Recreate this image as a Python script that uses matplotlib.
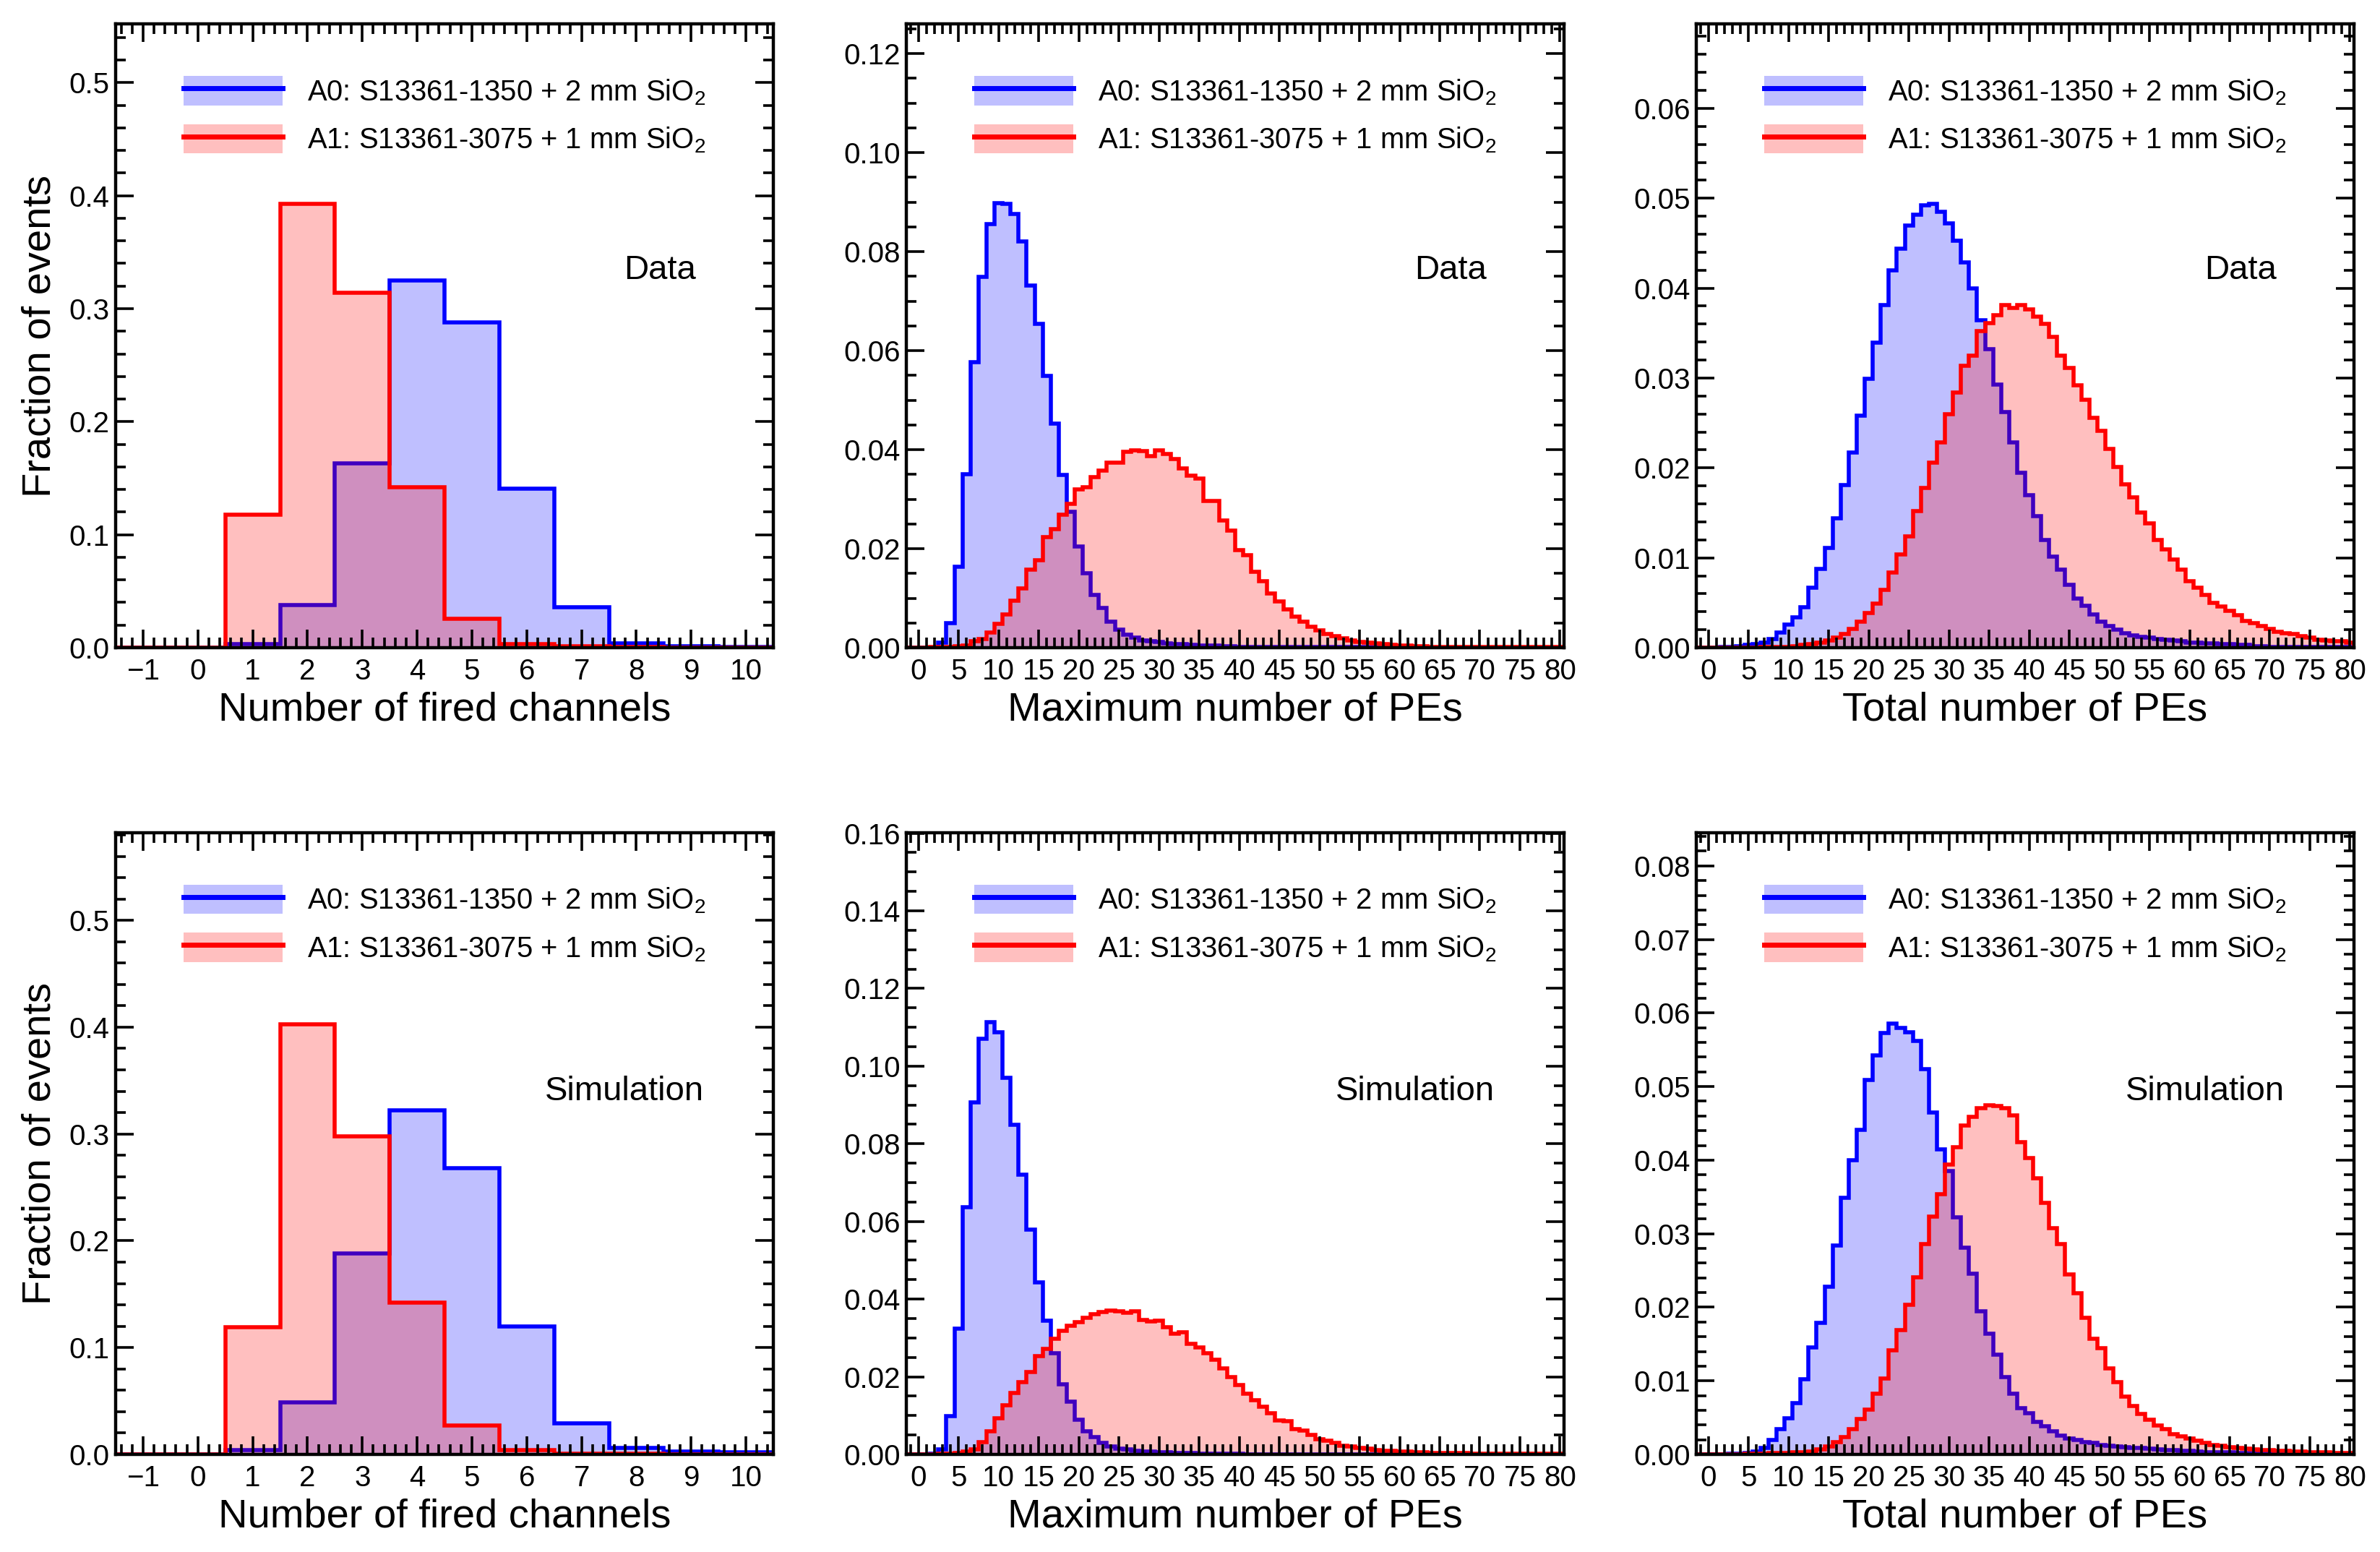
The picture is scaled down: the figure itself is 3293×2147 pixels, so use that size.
import matplotlib
matplotlib.use("Agg")
import matplotlib.pyplot as plt
import numpy as np
from matplotlib.ticker import MultipleLocator, FormatStrFormatter
from matplotlib.patches import Patch
from matplotlib.lines import Line2D

plt.rcParams['font.family'] = ['Liberation Sans', 'DejaVu Sans']
plt.rcParams['mathtext.default'] = 'regular'

LABEL_A0 = "A0: S13361-1350 + 2 mm SiO$_2$"
LABEL_A1 = "A1: S13361-3075 + 1 mm SiO$_2$"

# bin centres
FIRED_BINS = np.arange(-1, 11)
PE_BINS = np.arange(-1, 81)

# number of fired channels (bins -1..10)
FIRED_DATA_A0 = [0, 0, 0.003, 0.038, 0.163, 0.325, 0.288, 0.141, 0.036, 0.004, 0.001, 0.0005]
FIRED_DATA_A1 = [0, 0, 0.118, 0.393, 0.314, 0.142, 0.0255, 0.003, 0.001, 0.0005, 0.0003, 0.0002]
FIRED_SIM_A0 = [0, 0, 0.004, 0.049, 0.188, 0.322, 0.268, 0.120, 0.029, 0.006, 0.003, 0.002]
FIRED_SIM_A1 = [0, 0, 0.119, 0.403, 0.298, 0.142, 0.027, 0.004, 0.001, 0.0005, 0.0003, 0.0002]

# maximum number of PEs (bins -1..80)
MAXPE_DATA_A0 = [
    0, 0, 0, 0, 0.0010, 0.0049, 0.0164, 0.0350, 0.0576, 0.0749,
    0.0856, 0.0898, 0.0897, 0.0876, 0.0821, 0.0731, 0.0654, 0.0549, 0.0452, 0.0349,
    0.0275, 0.0204, 0.0150, 0.0107, 0.0080, 0.0053, 0.0037, 0.0027, 0.0020, 0.0015,
    0.0013, 0.0011, 0.0009, 0.0008, 0.0007, 0.0006, 0.0005, 0.0004, 0.0004, 0.0003,
    0.0003, 0.0002, 0.0002, 0.0002, 0.0001, 0.0001, 0.0001, 0.0001, 0.0001, 0.0001,
    0.0001, 0.0001, 0.0001, 0.0001, 0.0001, 0.0001, 0.0001, 0.0001, 0.0001, 0.0001,
    0.0001, 0, 0, 0, 0, 0, 0, 0, 0, 0,
    0, 0, 0, 0, 0, 0, 0, 0, 0, 0,
    0, 0,
]
MAXPE_DATA_A1 = [
    0, 0, 0, 0.0001, 0.0001, 0.0002, 0.0003, 0.0005, 0.0013, 0.0017,
    0.0030, 0.0048, 0.0067, 0.0095, 0.0120, 0.0157, 0.0177, 0.0224, 0.0240, 0.0268,
    0.0290, 0.0320, 0.0324, 0.0344, 0.0357, 0.0374, 0.0374, 0.0395, 0.0399, 0.0397,
    0.0387, 0.0399, 0.0391, 0.0381, 0.0362, 0.0347, 0.0341, 0.0297, 0.0296, 0.0257,
    0.0237, 0.0197, 0.0187, 0.0154, 0.0134, 0.0110, 0.0094, 0.0077, 0.0063, 0.0053,
    0.0043, 0.0035, 0.0028, 0.0023, 0.0019, 0.0015, 0.0012, 0.0010, 0.0009, 0.0007,
    0.0006, 0.0005, 0.0004, 0.0003, 0.0003, 0.0002, 0.0002, 0.0001, 0.0001, 0.0001,
    0.0001, 0.0001, 0.0001, 0.0001, 0.0001, 0.0001, 0.0001, 0.0001, 0.0001, 0.0001,
    0.0001, 0.0001,
]
MAXPE_SIM_A0 = [
    0, 0, 0, 0.0001, 0.0013, 0.0098, 0.0323, 0.0636, 0.0906, 0.1070,
    0.1113, 0.1088, 0.0969, 0.0849, 0.0721, 0.0579, 0.0443, 0.0345, 0.0260, 0.0181,
    0.0136, 0.0089, 0.0060, 0.0045, 0.0030, 0.0021, 0.0015, 0.0013, 0.0010, 0.0008,
    0.0007, 0.0006, 0.0005, 0.0004, 0.0003, 0.0003, 0.0002, 0.0002, 0.0001, 0.0001,
    0.0001, 0.0001, 0, 0, 0, 0, 0, 0, 0, 0,
    0, 0, 0, 0, 0, 0, 0, 0, 0, 0,
    0, 0, 0, 0, 0, 0, 0, 0, 0, 0,
    0, 0, 0, 0, 0, 0, 0, 0, 0, 0,
    0, 0,
]
MAXPE_SIM_A1 = [
    0, 0, 0, 0, 0.0001, 0.0002, 0.0003, 0.0007, 0.0013, 0.0031,
    0.0060, 0.0094, 0.0126, 0.0159, 0.0187, 0.0213, 0.0253, 0.0272, 0.0298, 0.0319,
    0.0332, 0.0340, 0.0351, 0.0362, 0.0366, 0.0370, 0.0368, 0.0365, 0.0368, 0.0346,
    0.0343, 0.0345, 0.0328, 0.0311, 0.0315, 0.0285, 0.0275, 0.0260, 0.0243, 0.0221,
    0.0200, 0.0179, 0.0157, 0.0139, 0.0123, 0.0106, 0.0088, 0.0085, 0.0066, 0.0061,
    0.0051, 0.0040, 0.0036, 0.0030, 0.0023, 0.0020, 0.0016, 0.0014, 0.0012, 0.0010,
    0.0009, 0.0008, 0.0007, 0.0006, 0.0005, 0.0004, 0.0004, 0.0003, 0.0003, 0.0003,
    0.0002, 0.0002, 0.0001, 0.0001, 0.0001, 0.0001, 0.0001, 0.0001, 0.0001, 0.0001,
    0.0001, 0.0001,
]

# total number of PEs (bins -1..80)
TOTPE_DATA_A0 = [
    0, 0, 0, 0.0001, 0.0001, 0.0002, 0.0003, 0.0004, 0.0006, 0.0010,
    0.0017, 0.0026, 0.0034, 0.0045, 0.0067, 0.0088, 0.0111, 0.0144, 0.0181, 0.0217,
    0.0258, 0.0299, 0.0339, 0.0381, 0.0420, 0.0444, 0.0470, 0.0482, 0.0492, 0.0494,
    0.0485, 0.0472, 0.0453, 0.0429, 0.0400, 0.0364, 0.0332, 0.0293, 0.0262, 0.0228,
    0.0195, 0.0170, 0.0146, 0.0120, 0.0101, 0.0087, 0.0070, 0.0055, 0.0047, 0.0037,
    0.0029, 0.0024, 0.0020, 0.0016, 0.0014, 0.0012, 0.0011, 0.0010, 0.0009, 0.0008,
    0.0007, 0.0006, 0.0006, 0.0005, 0.0005, 0.0004, 0.0004, 0.0003, 0.0003, 0.0002,
    0.0002, 0.0001, 0.0001, 0.0001, 0.0001, 0.0001, 0.0001, 0.0001, 0.0001, 0.0001,
    0.0001, 0.0001,
]
TOTPE_DATA_A1 = [
    0, 0, 0, 0, 0, 0, 0, 0, 0.0001, 0.0001,
    0.0001, 0.0001, 0.0002, 0.0003, 0.0004, 0.0006, 0.0008, 0.0011, 0.0015, 0.0021,
    0.0029, 0.0039, 0.0049, 0.0064, 0.0084, 0.0104, 0.0124, 0.0152, 0.0178, 0.0206,
    0.0228, 0.0260, 0.0284, 0.0314, 0.0325, 0.0352, 0.0361, 0.0370, 0.0381, 0.0378,
    0.0381, 0.0376, 0.0368, 0.0360, 0.0346, 0.0325, 0.0311, 0.0292, 0.0276, 0.0256,
    0.0241, 0.0221, 0.0201, 0.0182, 0.0167, 0.0150, 0.0138, 0.0120, 0.0109, 0.0098,
    0.0087, 0.0074, 0.0067, 0.0059, 0.0050, 0.0046, 0.0041, 0.0036, 0.0030, 0.0027,
    0.0024, 0.0021, 0.0018, 0.0016, 0.0015, 0.0013, 0.0011, 0.0009, 0.0008, 0.0007,
    0.0007, 0.0006,
]
TOTPE_SIM_A0 = [
    0, 0, 0, 0, 0.0001, 0.0001, 0.0002, 0.0004, 0.0009, 0.0020,
    0.0034, 0.0049, 0.0070, 0.0102, 0.0145, 0.0179, 0.0228, 0.0284, 0.0349, 0.0400,
    0.0441, 0.0509, 0.0542, 0.0573, 0.0586, 0.0580, 0.0574, 0.0562, 0.0524, 0.0465,
    0.0415, 0.0385, 0.0322, 0.0281, 0.0246, 0.0195, 0.0164, 0.0136, 0.0105, 0.0083,
    0.0063, 0.0056, 0.0044, 0.0038, 0.0031, 0.0026, 0.0022, 0.0020, 0.0017, 0.0016,
    0.0013, 0.0012, 0.0011, 0.0010, 0.0009, 0.0009, 0.0008, 0.0007, 0.0006, 0.0006,
    0.0005, 0.0005, 0.0004, 0.0003, 0.0003, 0.0003, 0.0003, 0.0002, 0.0002, 0.0002,
    0.0002, 0.0002, 0.0001, 0.0001, 0.0001, 0.0001, 0.0001, 0.0001, 0.0001, 0.0001,
    0.0001, 0.0001,
]
TOTPE_SIM_A1 = [
    0, 0, 0, 0, 0, 0, 0.0001, 0.0001, 0.0001, 0.0002,
    0.0002, 0.0002, 0.0003, 0.0003, 0.0004, 0.0007, 0.0011, 0.0017, 0.0024, 0.0034,
    0.0048, 0.0061, 0.0083, 0.0103, 0.0141, 0.0169, 0.0203, 0.0241, 0.0286, 0.0323,
    0.0354, 0.0394, 0.0418, 0.0447, 0.0459, 0.0471, 0.0475, 0.0474, 0.0471, 0.0461,
    0.0424, 0.0403, 0.0375, 0.0342, 0.0308, 0.0286, 0.0245, 0.0219, 0.0186, 0.0157,
    0.0144, 0.0117, 0.0098, 0.0079, 0.0066, 0.0055, 0.0047, 0.0039, 0.0034, 0.0028,
    0.0025, 0.0022, 0.0019, 0.0016, 0.0013, 0.0012, 0.0010, 0.0009, 0.0008, 0.0007,
    0.0006, 0.0006, 0.0005, 0.0005, 0.0004, 0.0004, 0.0003, 0.0003, 0.0003, 0.0002,
    0.0002, 0.0002,
]

XLABEL_FIRED = "Number of fired channels"
XLABEL_MAXPE = "Maximum number of PEs"
XLABEL_TOTPE = "Total number of PEs"
YLABEL = "Fraction of events"

C_A0 = (0.0, 0.0, 1.0)
C_A1 = (1.0, 0.0, 0.0)
FILL_A0 = "#bfbfff"
FILL_A1 = "#ffbfbf"


def edges_of(centres):
    c = np.asarray(centres, dtype=float)
    return np.append(c - 0.5, c[-1] + 0.5)


def draw_panel(ax, centres, a0, a1, ytop, xmaj, xmin, ymaj, ymin, yfmt, xlabel, tag, ylabel=None):
    edges = edges_of(centres)
    # blue first, then red on top (ROOT-like alpha blending)
    ax.stairs(a0, edges, fill=True, color=C_A0, alpha=0.25, lw=0)
    ax.stairs(a0, edges, color=C_A0, lw=2.0)
    ax.stairs(a1, edges, fill=True, color=C_A1, alpha=0.25, lw=0)
    ax.stairs(a1, edges, color=C_A1, lw=2.0)

    ax.set_xlim(edges[0], edges[-1])
    ax.set_ylim(0, ytop)
    ax.xaxis.set_major_locator(MultipleLocator(xmaj))
    ax.xaxis.set_minor_locator(MultipleLocator(xmin))
    ax.yaxis.set_major_locator(MultipleLocator(ymaj))
    ax.yaxis.set_minor_locator(MultipleLocator(ymin))
    ax.yaxis.set_major_formatter(FormatStrFormatter(yfmt))
    ax.tick_params(which='both', direction='in', top=True, right=True, width=1.3)
    ax.tick_params(which='major', length=9, labelsize=14.5)
    ax.tick_params(which='minor', length=5)
    ax.tick_params(axis='x', which='major', pad=5)
    ax.tick_params(axis='y', which='major', pad=3)
    for sp in ax.spines.values():
        sp.set_linewidth(1.6)

    ax.set_xlabel(xlabel, fontsize=20.2, labelpad=3)
    if ylabel:
        ax.set_ylabel(ylabel, fontsize=20.2, labelpad=5)

    handles = [
        (Patch(facecolor=FILL_A0, edgecolor='none'), Line2D([], [], color=C_A0, lw=2.5)),
        (Patch(facecolor=FILL_A1, edgecolor='none'), Line2D([], [], color=C_A1, lw=2.5)),
    ]
    ax.legend(handles, [LABEL_A0, LABEL_A1], loc='upper left', bbox_to_anchor=(0.103, 0.916),
              frameon=False, fontsize=14.4, borderpad=0, borderaxespad=0,
              handlelength=3.42, handleheight=1.17, handletextpad=0.85, labelspacing=0.6)

    ypos = 0.591 if tag == "Data" else 0.57
    xpos = 0.882 if tag == "Data" else 0.894
    ax.text(xpos, ypos, tag, transform=ax.transAxes, ha='right', va='baseline', fontsize=17)


fig = plt.figure(figsize=(16.465, 10.735), dpi=200)

col_x = [160 / 3293, 1254 / 3293, 2347 / 3293]
col_w = 910 / 3293
row_y = [1 - 896 / 2147, 1 - 2012 / 2147]
row_h = [863 / 2147, 860 / 2147]

axes = [[fig.add_axes([col_x[c], row_y[r], col_w, row_h[r]]) for c in range(3)] for r in range(2)]

draw_panel(axes[0][0], FIRED_BINS, FIRED_DATA_A0, FIRED_DATA_A1, 0.552, 1, 0.2, 0.1, 0.02, '%.1f',
           XLABEL_FIRED, "Data", YLABEL)
draw_panel(axes[0][1], PE_BINS, MAXPE_DATA_A0, MAXPE_DATA_A1, 0.126, 5, 1, 0.02, 0.005, '%.2f',
           XLABEL_MAXPE, "Data")
draw_panel(axes[0][2], PE_BINS, TOTPE_DATA_A0, TOTPE_DATA_A1, 0.0694, 5, 1, 0.01, 0.002, '%.2f',
           XLABEL_TOTPE, "Data")
draw_panel(axes[1][0], FIRED_BINS, FIRED_SIM_A0, FIRED_SIM_A1, 0.582, 1, 0.2, 0.1, 0.02, '%.1f',
           XLABEL_FIRED, "Simulation", YLABEL)
draw_panel(axes[1][1], PE_BINS, MAXPE_SIM_A0, MAXPE_SIM_A1, 0.1601, 5, 1, 0.02, 0.005, '%.2f',
           XLABEL_MAXPE, "Simulation")
draw_panel(axes[1][2], PE_BINS, TOTPE_SIM_A0, TOTPE_SIM_A1, 0.0845, 5, 1, 0.01, 0.002, '%.2f',
           XLABEL_TOTPE, "Simulation")

fig.savefig("out.png", dpi=200)
